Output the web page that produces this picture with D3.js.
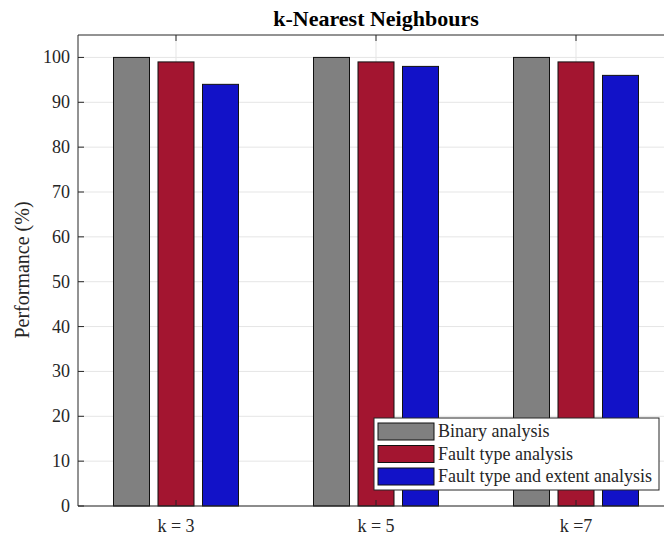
<!DOCTYPE html>
<html>
<head>
<meta charset="utf-8">
<script src="https://cdn.jsdelivr.net/npm/d3@7"></script>
<style>
  body { margin: 0; background: #fff; }
  text { font-family: "Liberation Serif", "Times New Roman", serif; fill: #262626; }
</style>
</head>
<body>
<div id="chart"></div>
<script>
const categories = ["k = 3", "k = 5", "k =7"];
const seriesNames = ["Binary analysis", "Fault type analysis", "Fault type and extent analysis"];
const binary = [100, 100, 100];
const faultType = [99, 99, 99];
const faultExtent = [94, 98, 96];
const yTicks = [0, 10, 20, 30, 40, 50, 60, 70, 80, 90, 100];
const colors = ["#808080", "#A31530", "#1212C8"];

const W = 664, H = 537;
const svg = d3.select("#chart").append("svg")
  .attr("width", W).attr("height", H);

const plotLeft = 78, plotTop = 35, plotBottom = 506;
// x axis runs past the picture edge on the right, as in the original figure
const x = d3.scaleLinear().domain([0.5, 3.5]).range([76, 676]);
const y = d3.scaleLinear().domain([0, 105]).range([plotBottom, plotTop]);

const g = svg.append("g");

// grid
g.selectAll("line.hgrid").data(yTicks).enter().append("line")
  .attr("x1", plotLeft).attr("x2", W)
  .attr("y1", d => y(d)).attr("y2", d => y(d))
  .attr("stroke", "#e5e5e5").attr("stroke-width", 1);
g.selectAll("line.vgrid").data(categories).enter().append("line")
  .attr("x1", (d, i) => x(i + 1)).attr("x2", (d, i) => x(i + 1))
  .attr("y1", plotTop).attr("y2", plotBottom)
  .attr("stroke", "#e5e5e5").attr("stroke-width", 1);

// bars
const series = [binary, faultType, faultExtent];
const offset = 0.2225, barW = 0.18;
series.forEach((vals, s) => {
  g.selectAll("rect.s" + s).data(vals).enter().append("rect")
    .attr("x", (d, i) => x(i + 1 + (s - 1) * offset - barW / 2))
    .attr("width", x(barW) - x(0))
    .attr("y", d => y(d))
    .attr("height", d => y(0) - y(d))
    .attr("fill", colors[s])
    .attr("stroke", "#111").attr("stroke-width", 1);
});

// axes box
g.append("line").attr("x1", plotLeft).attr("x2", plotLeft).attr("y1", plotTop).attr("y2", plotBottom)
  .attr("stroke", "#262626");
g.append("line").attr("x1", plotLeft).attr("x2", W).attr("y1", plotBottom).attr("y2", plotBottom)
  .attr("stroke", "#262626");
g.append("line").attr("x1", plotLeft).attr("x2", W).attr("y1", plotTop).attr("y2", plotTop)
  .attr("stroke", "#262626");

// y ticks (inward)
g.selectAll("line.yt").data(yTicks).enter().append("line")
  .attr("x1", plotLeft).attr("x2", plotLeft + 6)
  .attr("y1", d => y(d)).attr("y2", d => y(d))
  .attr("stroke", "#262626");
g.selectAll("text.yl").data(yTicks).enter().append("text")
  .attr("x", plotLeft - 8).attr("y", d => y(d) + 6)
  .attr("text-anchor", "end").attr("font-size", 18)
  .text(d => d);

// x ticks top and bottom (inward)
categories.forEach((c, i) => {
  g.append("line").attr("x1", x(i + 1)).attr("x2", x(i + 1))
    .attr("y1", plotBottom).attr("y2", plotBottom - 6).attr("stroke", "#262626");
  g.append("line").attr("x1", x(i + 1)).attr("x2", x(i + 1))
    .attr("y1", plotTop).attr("y2", plotTop + 6).attr("stroke", "#262626");
  g.append("text").attr("x", x(i + 1)).attr("y", 532)
    .attr("text-anchor", "middle").attr("font-size", 18).text(c);
});

// y label
svg.append("text")
  .attr("transform", "translate(29,270) rotate(-90)")
  .attr("text-anchor", "middle").attr("font-size", 20)
  .text("Performance (%)");

// title
svg.append("text").attr("x", 376).attr("y", 26)
  .attr("text-anchor", "middle").attr("font-size", 22).attr("font-weight", "bold")
  .style("fill", "#000")
  .text("k-Nearest Neighbours");

// legend
const lg = svg.append("g").attr("transform", "translate(374,418)");
lg.append("rect").attr("width", 285).attr("height", 72)
  .attr("fill", "#fff").attr("stroke", "#262626").attr("stroke-width", 1);
seriesNames.forEach((n, i) => {
  lg.append("rect").attr("x", 4).attr("y", 5 + i * 22.5)
    .attr("width", 56).attr("height", 17)
    .attr("fill", colors[i]).attr("stroke", "#111");
  lg.append("text").attr("x", 64).attr("y", 19 + i * 22.5)
    .attr("font-size", 18).text(n);
});
</script>
</body>
</html>
